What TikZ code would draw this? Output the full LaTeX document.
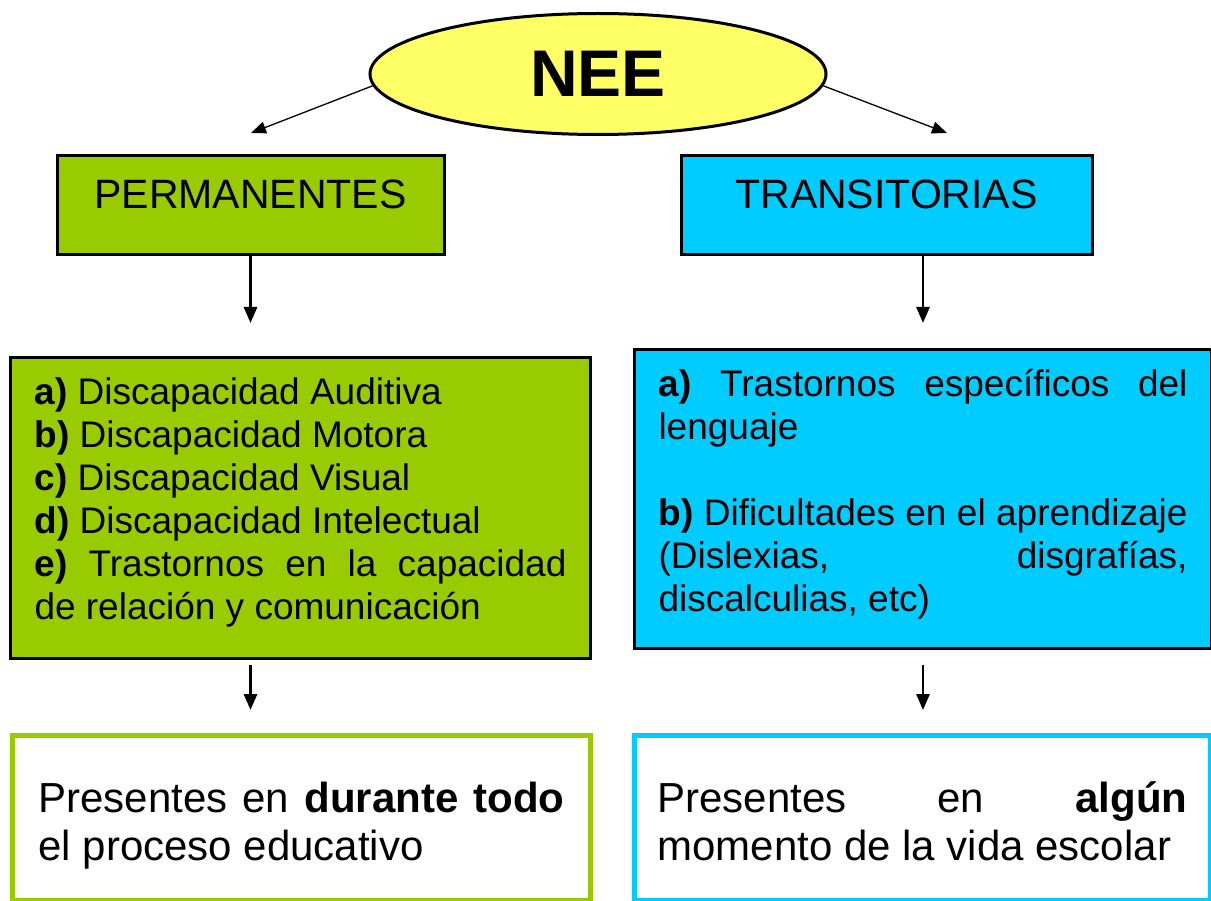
\documentclass[tikz,border=0pt]{standalone}
\usepackage{fontspec}
\setmainfont{Liberation Sans}
\usepackage{tikz}
\usetikzlibrary{calc,shapes.geometric,arrows.meta}
\usepackage{xcolor}

\definecolor{neeyellow}{HTML}{FFFF66}
\definecolor{permgreen}{HTML}{99CC00}
\definecolor{transblue}{HTML}{00CCFF}
\hbadness=10000

\begin{document}
\begin{tikzpicture}[x=1pt,y=-1pt,
        headbox/.style={draw,line width=3pt,inner sep=0pt,minimum height=99pt,text height=53pt,text depth=46pt,font=\fontsize{41}{48}\selectfont},
        listbox/.style={draw,line width=3pt,anchor=north west,inner xsep=24pt,inner ysep=0pt,text height=47pt,align=justify,font=\fontsize{37}{43}\selectfont},
        endbox/.style={line width=5pt,fill=white,anchor=north west,inner ysep=0pt,text height=77pt,text depth=88pt,align=justify,font=\fontsize{42}{48}\selectfont},
        smallarrow/.style={-{Triangle[length=15pt,width=12pt]},line width=1.3pt},
        bigarrow/.style={-{Triangle[length=16pt,width=13pt]},line width=2.8pt}
    ]
        \useasboundingbox (0,0) rectangle (1211,901);

        \def\rx{456}; % ellipse width
        \def\ry{121}; % ellipse height

        \node[ellipse,draw,line width=3pt,fill=neeyellow,minimum width=\rx pt,minimum height=\ry pt,font=\fontsize{66}{70}\selectfont\bfseries] (nee) at (598,74) {NEE};

        \node[headbox,fill=permgreen,minimum width=387pt] (perm) at (250.5,205.5) {PERMANENTES};
        \node[headbox,fill=transblue,minimum width=411pt] (trans) at (886.5,205.5) {TRANSITORIAS};

        \coordinate (permtip) at (251,133);
        \coordinate (transtip) at (947,133);

        \draw[smallarrow] (nee.183) -- (permtip);
        \draw[smallarrow] (nee.-3) -- (transtip);

        \node[listbox,fill=permgreen,text width=532pt,text depth=254pt] (permlist) at (9,356) {%
            \textbf{a)} Discapacidad Auditiva\\
            \textbf{b)} Discapacidad Motora\\
            \textbf{c)} Discapacidad Visual\\
            \textbf{d)} Discapacidad Intelectual\\
            \textbf{e)} Trastornos en la capacidad\linebreak de relación y comunicación};
        \node[listbox,fill=transblue,text width=529pt,text depth=252pt] (translist) at (633,348) {%
            \textbf{a)} Trastornos específicos del\linebreak lenguaje\\[43pt]
            \textbf{b)} Dificultades en el aprendizaje\linebreak (Dislexias, disgrafías,\linebreak discalculias, etc)};

        \draw[bigarrow,shorten >=33pt] (perm.south) -- (permlist.north -| perm.south);
        \draw[bigarrow,shorten >=25pt] (trans.south -| translist.north) -- (translist.north);

        \node[endbox,draw=permgreen,text width=526pt,inner xsep=26pt] (permend) at (10,733) {Presentes en \textbf{durante todo}\linebreak el proceso educativo};
        \node[endbox,draw=transblue,text width=530pt,inner xsep=23pt] (transend) at (632,733) {Presentes en \textbf{algún}\linebreak momento de la vida escolar};

        \draw[bigarrow,shorten <=5pt,shorten >=23pt] (permlist.south -| perm.south) -- (permend.north -| perm.south);
        \draw[bigarrow,shorten <=15pt,shorten >=23pt] (translist.south) -- (transend.north -| translist.south);
    \end{tikzpicture}
\end{document}
